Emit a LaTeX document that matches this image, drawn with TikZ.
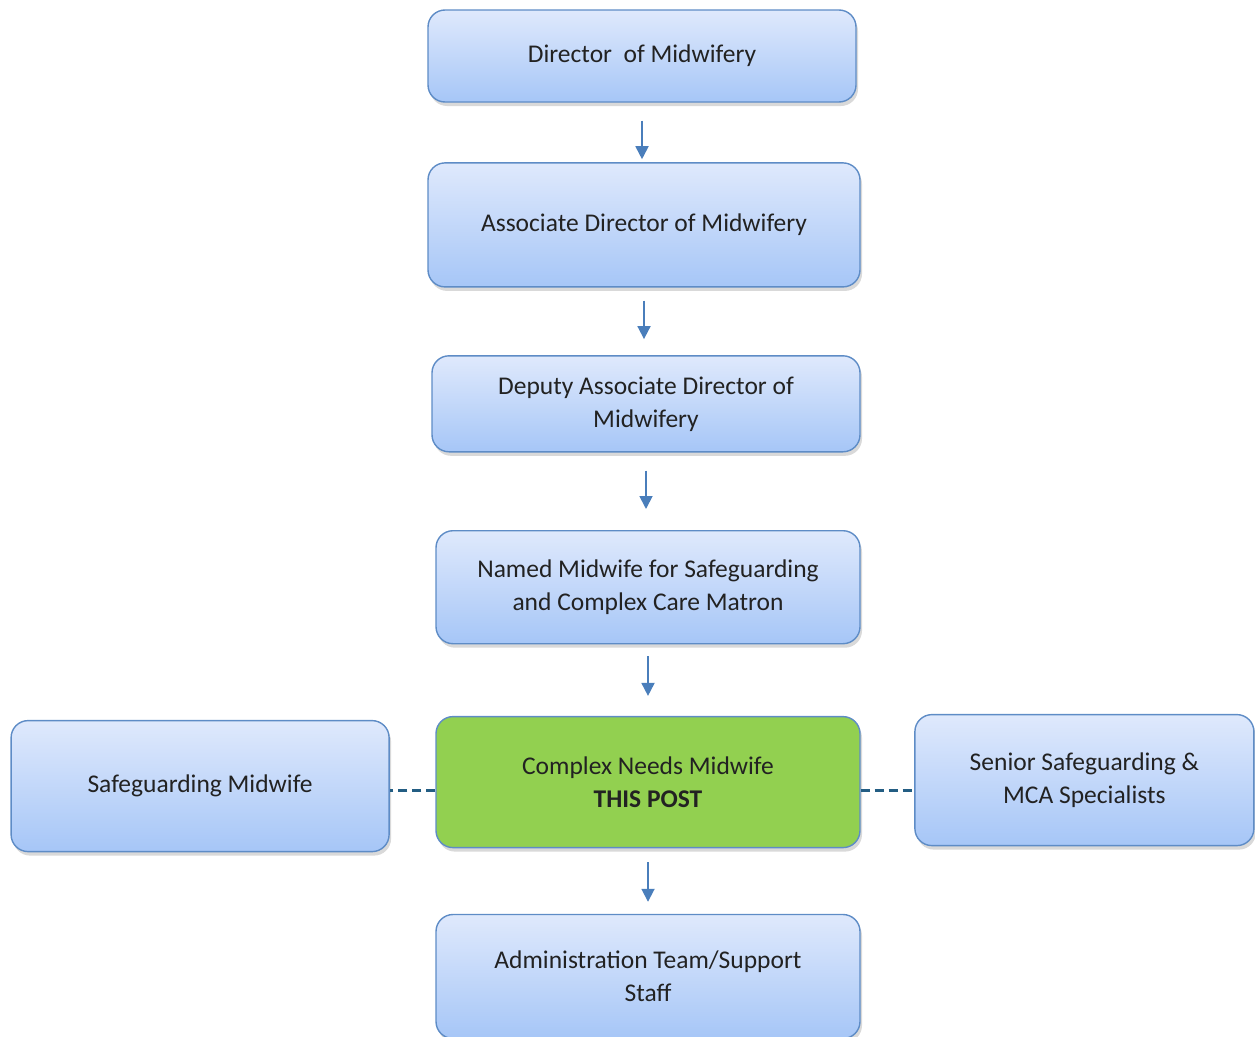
\documentclass[tikz,border=0pt]{standalone}
\usepackage{fontspec}
\setmainfont{Carlito}
\usepackage{xcolor}
\usetikzlibrary{positioning,arrows.meta,shadows}

\definecolor{boxtop}{HTML}{DFE9FC}
\definecolor{boxbot}{HTML}{A6C6F7}
\definecolor{boxline}{HTML}{5E8CC6}
\definecolor{postgreen}{HTML}{92D050}
\definecolor{arrowblue}{HTML}{4A7EBB}
\definecolor{dashblue}{HTML}{235D83}
\definecolor{txt}{HTML}{222222}

\begin{document}
\begin{tikzpicture}[x=1pt, y=-1pt, >={Triangle[width=13pt,length=13pt]}, every node/.style={font=\fontsize{25.5}{33}\selectfont, text=txt}, box/.style={draw=boxline, line width=1.4pt, rounded corners=17pt, align=center, top color=boxtop, bottom color=boxbot, drop shadow={opacity=0.3, shadow xshift=2pt, shadow yshift=-4pt}}, thispost/.style={box, top color=postgreen, bottom color=postgreen}, arr/.style={->, draw=arrowblue, line width=1.8pt}, link/.style={draw=dashblue, line width=3pt, dash pattern=on 9pt off 5pt}]
\useasboundingbox (0,0) rectangle (1255,1036);
\node[box, minimum width=428pt, minimum height=92pt] (dir) at (642,56) {Director\ \ of Midwifery};
\node[box, minimum width=432pt, minimum height=124pt, below=59.5pt of dir, xshift=2pt] (assoc) {Associate Director of Midwifery};
\node[box, minimum width=428pt, minimum height=96pt, below=67.5pt of assoc, xshift=2pt] (deputy) {Deputy Associate Director of\\Midwifery};
\node[box, minimum width=424pt, minimum height=113pt, below=77.5pt of deputy, xshift=2pt] (named) {Named Midwife for Safeguarding\\and Complex Care Matron};
\node[thispost, minimum width=424pt, minimum height=131pt, below=71.5pt of named] (complex) {Complex Needs Midwife\\\textbf{THIS POST}};
\node[box, minimum width=378pt, minimum height=131pt, left=45.5pt of complex, yshift=-4pt] (safe) {Safeguarding Midwife};
\node[box, minimum width=339pt, minimum height=131pt, right=53.5pt of complex, yshift=2pt] (senior) {Senior Safeguarding \&\\MCA Specialists};
\node[box, minimum width=424pt, minimum height=124pt, below=65.5pt of complex] (admin) {Administration Team/Support\\Staff};
% reporting lines
\draw[arr, shorten <=18pt, shorten >=3pt] (dir.south) -- (dir.south |- assoc.north);
\draw[arr, shorten <=13pt, shorten >=16pt] (assoc.south) -- (assoc.south |- deputy.north);
\draw[arr, shorten <=18pt, shorten >=21pt] (deputy.south) -- (deputy.south |- named.north);
\draw[arr, shorten <=12pt, shorten >=20pt] (named.south) -- (named.south |- complex.north);
\draw[arr, shorten <=14pt, shorten >=12pt] (complex.south) -- (complex.south |- admin.north);
% working links
\draw[link] ([yshift=-8pt]complex.west) -- ([yshift=-8pt]complex.west -| safe.east);
\draw[link] ([yshift=-8pt]complex.east) -- ([yshift=-8pt]complex.east -| senior.west);
\end{tikzpicture}
\end{document}
